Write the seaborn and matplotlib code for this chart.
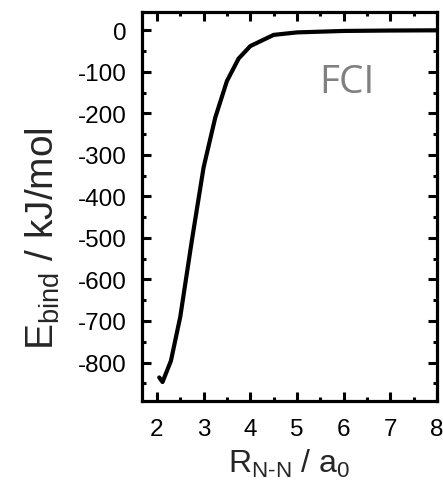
import matplotlib
matplotlib.use("Agg")
import matplotlib.pyplot as plt
import seaborn as sns
import pandas as pd
from matplotlib.ticker import MultipleLocator

# FCI binding curve of N2
r_nn = [2.05, 2.12, 2.3, 2.5, 2.75, 3.0, 3.25, 3.5, 3.75, 4.0, 4.5, 5.0, 6.0, 7.0, 8.0]
e_bind = [-836, -847, -796, -690, -505, -330, -210, -122, -68, -38, -11, -5, -1.5, -0.5, 0]

sns.set_theme(style="ticks")
plt.rcParams['font.family'] = ['Liberation Sans', 'DejaVu Sans']
plt.rcParams['axes.unicode_minus'] = False
plt.rcParams['mathtext.fontset'] = 'custom'
plt.rcParams['mathtext.rm'] = 'Liberation Sans'
plt.rcParams['mathtext.it'] = 'Liberation Sans'

df = pd.DataFrame({'R': r_nn, 'E': e_bind})

fig = plt.figure(figsize=(4.43, 4.81), dpi=100)
ax = fig.add_axes([0.3205, 0.164, 0.666, 0.808])

sns.lineplot(data=df, x='R', y='E', ax=ax, color='black', linewidth=3, sort=False)

ax.set_xlim(1.68, 8.0)
ax.set_ylim(-893, 43)
ax.xaxis.set_major_locator(MultipleLocator(1))
ax.xaxis.set_minor_locator(MultipleLocator(0.5))
ax.yaxis.set_major_locator(MultipleLocator(100))
ax.yaxis.set_minor_locator(MultipleLocator(50))

ax.tick_params(which='both', direction='in', top=True, right=True, width=2.2, colors='black')
ax.tick_params(which='major', length=6.5, labelsize=17.5)
ax.tick_params(which='minor', length=3)
ax.tick_params(axis='x', which='major', pad=12)
ax.tick_params(axis='y', which='major', pad=11)

for s in ax.spines.values():
    s.set_linewidth(2.3)
    s.set_color('black')

ax.set_xlabel(r'R$_{\mathrm{N\text{-}N}}$ / a$_0$', fontsize=23, va='top')
ax.set_ylabel(r'E$_{\mathrm{bind}}$ / kJ/mol', fontsize=28, va='bottom')
ax.xaxis.set_label_coords(0.5, -0.118)
ax.yaxis.set_label_coords(-0.27, 0.42)

ax.text(0.695, 0.82, 'FCI', transform=ax.transAxes, fontsize=28, color='#808080',
        family=['Open Sans', 'DejaVu Sans'], ha='center', va='center')

fig.savefig('out.png', dpi=100)
